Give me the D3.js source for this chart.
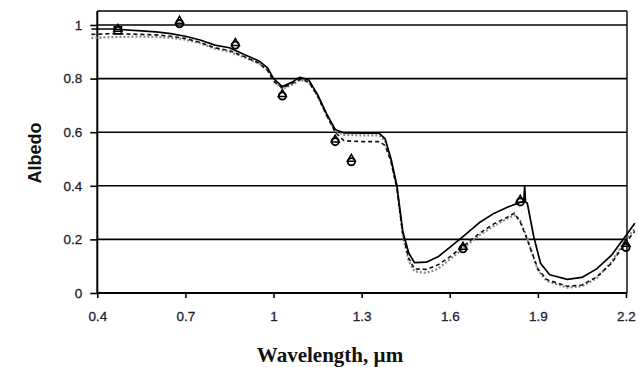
<!DOCTYPE html>
<html><head><meta charset="utf-8">
<script src="https://cdn.jsdelivr.net/npm/d3@7"></script>
<style>body{margin:0;background:#fff}svg{display:block}</style>
</head><body>
<svg id="c" width="639" height="367"></svg>
<script>
// ---- data ----
const xTicks = [0.4, 0.7, 1.0, 1.3, 1.6, 1.9, 2.2];
const xTickLabels = ["0.4", "0.7", "1", "1.3", "1.6", "1.9", "2.2"];
const yTicks = [0, 0.2, 0.4, 0.6, 0.8, 1.0];
const yTickLabels = ["0", "0.2", "0.4", "0.6", "0.8", "1"];

const solidWl  = [0.38,0.45,0.55,0.6,0.65,0.7,0.75,0.8,0.85,0.9,0.95,0.98,1.0,1.03,1.06,1.09,1.12,1.15,1.18,1.21,1.24,1.3,1.36,1.38,1.40,1.42,1.44,1.46,1.48,1.52,1.56,1.6,1.65,1.7,1.75,1.8,1.84,1.852,1.855,1.858,1.864,1.886,1.909,1.94,2.0,2.05,2.1,2.15,2.2,2.23];
const solidAlb = [0.985,0.985,0.978,0.974,0.968,0.958,0.944,0.925,0.915,0.89,0.866,0.84,0.80,0.77,0.785,0.805,0.795,0.74,0.67,0.61,0.597,0.596,0.596,0.575,0.50,0.40,0.23,0.15,0.113,0.115,0.135,0.17,0.215,0.262,0.297,0.322,0.338,0.341,0.40,0.34,0.335,0.21,0.111,0.068,0.051,0.058,0.09,0.14,0.215,0.26];

const dashWl  = [0.38,0.45,0.55,0.6,0.65,0.7,0.75,0.8,0.85,0.9,0.95,0.98,1.0,1.03,1.06,1.09,1.12,1.15,1.18,1.21,1.24,1.3,1.36,1.38,1.40,1.42,1.44,1.46,1.48,1.52,1.56,1.6,1.65,1.7,1.75,1.8,1.82,1.84,1.86,1.88,1.9,1.93,2.0,2.05,2.1,2.15,2.2,2.23];
const dashAlb = [0.965,0.968,0.965,0.963,0.958,0.95,0.935,0.915,0.905,0.882,0.858,0.83,0.79,0.765,0.78,0.797,0.788,0.735,0.665,0.60,0.568,0.565,0.565,0.55,0.49,0.39,0.22,0.13,0.09,0.088,0.105,0.135,0.178,0.222,0.258,0.285,0.298,0.265,0.21,0.15,0.09,0.05,0.025,0.03,0.06,0.11,0.19,0.23];

const dotWl  = [0.38,0.45,0.55,0.6,0.65,0.7,0.75,0.8,0.85,0.9,0.95,0.98,1.0,1.03,1.06,1.09,1.12,1.15,1.18,1.21,1.24,1.3,1.36,1.38,1.40,1.42,1.44,1.46,1.48,1.52,1.56,1.6,1.65,1.7,1.75,1.8,1.82,1.84,1.86,1.88,1.9,1.93,2.0,2.05,2.1,2.15,2.2,2.23];
const dotAlb = [0.952,0.955,0.957,0.955,0.952,0.945,0.932,0.912,0.90,0.88,0.857,0.832,0.795,0.762,0.775,0.795,0.787,0.735,0.665,0.605,0.59,0.588,0.588,0.568,0.495,0.395,0.215,0.12,0.08,0.075,0.09,0.125,0.17,0.215,0.25,0.28,0.29,0.27,0.215,0.15,0.085,0.045,0.02,0.025,0.055,0.115,0.20,0.24];

const circWl  = [0.68,0.87,1.03,1.21,1.265,1.645,1.84,2.2];
const circAlb = [1.005,0.925,0.735,0.565,0.49,0.165,0.34,0.17];
const triWl   = [0.47,0.68,0.87,1.03,1.21,1.265,1.645,1.84,2.2];
const triAlb  = [0.985,1.015,0.932,0.742,0.572,0.5,0.172,0.347,0.183];
const sqWl    = [0.47];
const sqAlb   = [0.98];

// ---- chart ----
const svg = d3.select("#c");
const x = d3.scaleLinear().domain([0.4, 2.2]).range([97.3, 626]);
const y = d3.scaleLinear().domain([0, 1]).range([293, 25]);
const plotTop = y(1.052), plotRight = 627;

// gridlines
svg.append("g").selectAll("line").data(yTicks.filter(d => d > 0)).join("line")
  .attr("x1", x(0.4)).attr("x2", plotRight).attr("y1", d => y(d)).attr("y2", d => y(d))
  .attr("stroke", "#000").attr("stroke-width", 1.6);
// frame top/right
svg.append("line").attr("x1", x(0.4)).attr("x2", plotRight).attr("y1", plotTop).attr("y2", plotTop)
  .attr("stroke", "#000").attr("stroke-width", 1.4);
svg.append("line").attr("x1", plotRight).attr("x2", plotRight).attr("y1", plotTop).attr("y2", y(0))
  .attr("stroke", "#000").attr("stroke-width", 1.4);

// axes
const font = "Arial, 'Liberation Sans', sans-serif";
const xAxis = d3.axisBottom(x).tickValues(xTicks).tickSize(5).tickPadding(13)
  .tickFormat((d, i) => xTickLabels[i]);
const gx = svg.append("g").attr("transform", `translate(0,${y(0)})`).call(xAxis);
gx.select(".domain").attr("stroke", "#000").attr("stroke-width", 2).attr("d", `M${x(0.4)},0H${plotRight}`);
gx.selectAll(".tick line").attr("stroke", "#000").attr("stroke-width", 1.6);
gx.selectAll("text").attr("font-family", font).attr("font-size", 13.5).attr("fill", "#222234")
  .attr("stroke", "#222234").attr("stroke-width", 0.3);

const yAxis = d3.axisLeft(y).tickValues(yTicks).tickSize(7).tickPadding(8)
  .tickFormat((d, i) => yTickLabels[i]);
const gy = svg.append("g").attr("transform", `translate(${x(0.4)},0)`).call(yAxis);
gy.select(".domain").attr("stroke", "#000").attr("stroke-width", 2).attr("d", `M0,${plotTop}V${y(0)}`);
gy.selectAll(".tick line").attr("stroke", "#000").attr("stroke-width", 1.6);
gy.selectAll("text").attr("font-family", font).attr("font-size", 13.5).attr("fill", "#222234")
  .attr("stroke", "#222234").attr("stroke-width", 0.3);

// lines
const line = d3.line().x(d => x(d[0])).y(d => y(d[1]));
const series = [
  {wl: dotWl, alb: dotAlb, stroke: "#8a8a8a", w: 2.2, dash: "2,2"},
  {wl: dashWl, alb: dashAlb, stroke: "#111", w: 1.6, dash: "4,3"},
  {wl: solidWl, alb: solidAlb, stroke: "#000", w: 1.7, dash: null}
];
series.forEach(s => {
  svg.append("path").datum(d3.zip(s.wl, s.alb)).attr("d", line)
    .attr("fill", "none").attr("stroke", s.stroke).attr("stroke-width", s.w)
    .attr("stroke-dasharray", s.dash).attr("stroke-linejoin", "round");
});

// markers
svg.append("g").selectAll("circle").data(d3.zip(circWl, circAlb)).join("circle")
  .attr("cx", d => x(d[0])).attr("cy", d => y(d[1])).attr("r", 3.6)
  .attr("fill", "none").attr("stroke", "#000").attr("stroke-width", 1.9);
const tri = d3.symbol().type(d3.symbolTriangle).size(28);
svg.append("g").selectAll("path").data(d3.zip(triWl, triAlb)).join("path")
  .attr("transform", d => `translate(${x(d[0])},${y(d[1])})`).attr("d", tri)
  .attr("fill", "none").attr("stroke", "#000").attr("stroke-width", 1.5);
svg.append("g").selectAll("rect").data(d3.zip(sqWl, sqAlb)).join("rect")
  .attr("x", d => x(d[0]) - 3.5).attr("y", d => y(d[1]) - 3.5).attr("width", 7).attr("height", 7)
  .attr("fill", "none").attr("stroke", "#000").attr("stroke-width", 1.8);

// titles
svg.append("text").attr("x", 330).attr("y", 362).attr("text-anchor", "middle")
  .attr("font-family", "'Liberation Serif', 'Times New Roman', serif").attr("font-weight", "bold")
  .attr("font-size", 21).attr("fill", "#111").text("Wavelength, µm");
svg.append("text").attr("transform", "translate(41,153) rotate(-90)").attr("text-anchor", "middle")
  .attr("font-family", font).attr("font-weight", "bold")
  .attr("font-size", 18).attr("fill", "#111").text("Albedo");
</script>
</body></html>
